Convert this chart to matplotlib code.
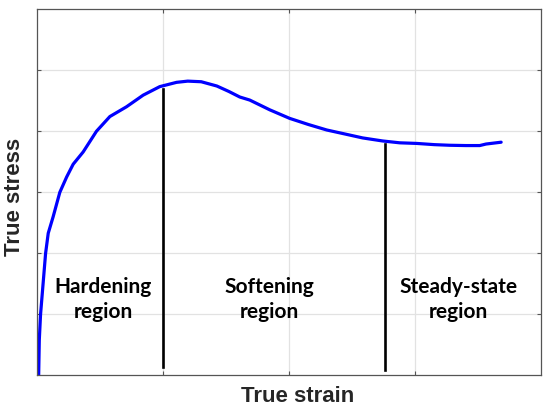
import matplotlib
matplotlib.use('Agg')
from matplotlib import pyplot as plt

# stress-strain curve (arbitrary units)
strain = [0.01, 0.015, 0.025, 0.045, 0.065, 0.086, 0.125, 0.178, 0.232, 0.284, 0.363, 0.469,
          0.575, 0.707, 0.839, 0.971, 1.104, 1.193, 1.30, 1.424, 1.52, 1.606, 1.685, 1.844,
          2.002, 2.15, 2.296, 2.45, 2.581, 2.74, 2.875, 3.01, 3.15, 3.27, 3.40, 3.51, 3.56, 3.68]
stress = [0, 0.58, 1.0, 1.5, 2.0, 2.33, 2.60, 3.0, 3.25, 3.46, 3.66, 4.0,
          4.24, 4.40, 4.59, 4.73, 4.80, 4.82, 4.81, 4.74, 4.65, 4.56, 4.51, 4.35,
          4.21, 4.11, 4.02, 3.95, 3.89, 3.84, 3.81, 3.80, 3.78, 3.77, 3.765, 3.765, 3.79, 3.82]

# region boundaries (x, bottom, top)
bound_x = [1.0, 2.76]
bound_lo = [0.14, 0.09]
bound_hi = [4.69, 3.79]

region_labels = ['Hardening\nregion', 'Softening\nregion', 'Steady-state\nregion']
region_x = [0.52, 1.84, 3.34]
region_y = 1.25

fig = plt.figure(figsize=(5.5, 4.12), dpi=100)
ax = fig.add_axes([0.068, 0.0886, 0.9165, 0.8894])

ax.plot(strain, stress, color='#0000ff', linewidth=2.3, solid_capstyle='round')
for bx, lo, hi in zip(bound_x, bound_lo, bound_hi):
    ax.plot([bx, bx], [lo, hi], color='black', linewidth=1.9)

for lab, rx in zip(region_labels, region_x):
    ax.text(rx, region_y, lab, ha='center', va='center', fontsize=15,
            fontweight='bold', family='Lato', linespacing=1.3)

ax.set_xlim(0, 4)
ax.set_ylim(0, 6)
ax.set_xticks([1, 2, 3])
ax.set_yticks([1, 2, 3, 4, 5])
ax.set_xticklabels([])
ax.set_yticklabels([])
ax.tick_params(direction='in', length=3, width=0.8, color='#555555',
               top=True, right=True)
ax.grid(True, color='#e2e2e2', linewidth=0.9)
ax.set_axisbelow(True)
for s in ax.spines.values():
    s.set_color('#555555')
    s.set_linewidth(0.9)

fig.text(297.5 / 550, 1 - 396 / 412, 'True strain', ha='center', va='center',
         fontsize=16, fontweight='bold', color='#262626', family='Liberation Sans')
fig.text(15 / 550, 1 - 197 / 412, 'True stress', ha='center', va='center', rotation=90,
         fontsize=16, fontweight='bold', color='#262626', family='Liberation Sans')

fig.savefig('out.png', dpi=100)
